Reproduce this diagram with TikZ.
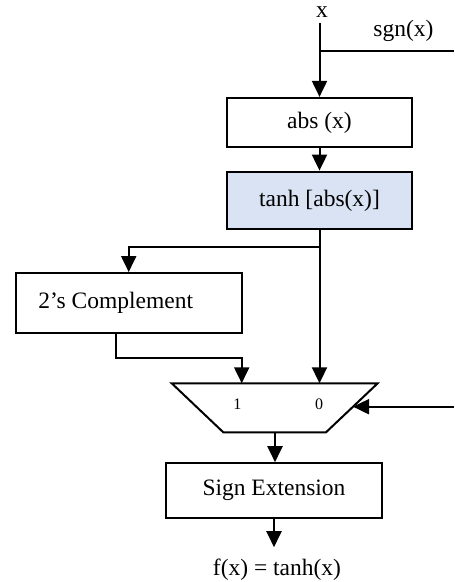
\documentclass[tikz,border=0pt]{standalone}
\usepackage{fontspec}
\setmainfont{Liberation Serif}
\usetikzlibrary{arrows.meta}
\definecolor{boxblue}{HTML}{DAE3F3}
\begin{document}
\begin{tikzpicture}[x=0.5pt,y=-0.5pt,
  font=\fontsize{11.75}{14}\selectfont,
  box/.style={draw,line width=1.1pt,inner sep=0pt},
  wire/.style={line width=1pt},
  conn/.style={line width=1pt,-{Triangle[length=8pt,width=7.5pt]}},
  small/.style={font=\fontsize{8}{10}\selectfont,inner sep=0pt}]
\useasboundingbox (0,0) rectangle (454,582);
% labels
\node[inner sep=2.8pt] (xl) at (322,12) {x};
\node (sgn) at (403.5,31) {sgn(x)};
% boxes
\node[box,minimum width=92.5pt,minimum height=24.5pt] (abs) at (319.5,122.5) {abs (x)};
\node[box,fill=boxblue,minimum width=92.5pt,minimum height=28.8pt] (tanh) at (319.5,200.5) {tanh [abs(x)]};
\node[box,minimum width=113pt,minimum height=29.85pt] (comp) at (128.7,303) {2’s Complement\kern13pt\null};
\node[box,minimum width=108.3pt,minimum height=27.2pt] (sext) at (274,490.5) {Sign Extension};
\node[inner xsep=0pt,inner ysep=5.8pt] (fx) at (277,570) {f(x) = tanh(x)};
% multiplexer
\coordinate (mtl) at (171.7,383.3);
\coordinate (mtr) at (377.7,383.3);
\coordinate (mbr) at (326,432.3);
\coordinate (mbl) at (223.3,432.3);
\draw[wire,line join=miter] (mtl) -- (mtr) -- (mbr) -- (mbl) -- cycle;
\coordinate (in1) at (241.7,383.3);
\coordinate (in0) at (319.5,383.3);
\coordinate (sel) at (353,406.7);
\coordinate (mout) at (275,432.3);
\node[small] (l1) at (237.3,404.3) {1};
\node[small] (l0) at (319,404.3) {0};
% connectors
\draw[conn] (xl.south -| abs.north) -- (abs.north);
\coordinate (jn) at (319.5,50.7);
\coordinate (sgnend) at (454,50.7);
\draw[wire] (jn) -- (sgnend);
\draw[conn] (abs) -- (tanh);
\draw[conn] (tanh.south) -- ++(0,16.5) -| (comp.north);
\draw[conn] (tanh.south) -- (in0);
\coordinate (cb) at (116,332.7);
\draw[conn] (cb) -- (116,358.3) -| (in1);
\coordinate (selin) at (454,406.7);
\draw[conn] (selin) -- (sel);
\draw[conn] (mout) -- (mout |- sext.north);
\draw[conn] (sext.south) -- (sext.south |- fx.north);
\end{tikzpicture}
\end{document}
